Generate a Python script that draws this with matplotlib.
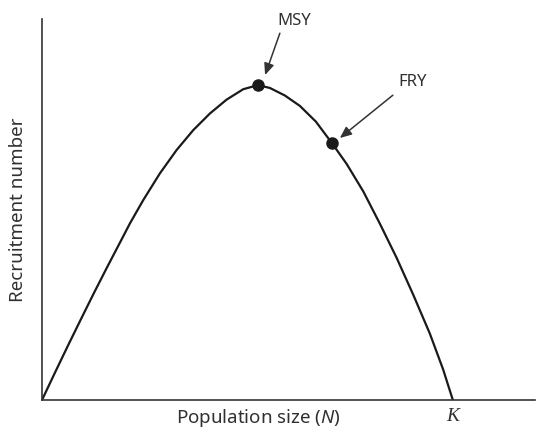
import matplotlib
matplotlib.use('Agg')
from matplotlib import pyplot as plt

# recruitment curve (K = 1000, MSY recruitment = 100)
population = [0, 31.6, 63.3, 94.9, 126.5, 158.2, 189.8, 214.1, 246.5, 287.1, 327.7,
              368.1, 408.8, 449.4, 489.8, 525.5, 554.7, 591.2, 627.7, 666.7, 705.6,
              741.4, 781.8, 822.4, 863.0, 903.4, 944.0, 976.4, 1000]
recruitment = [0, 8.7, 17.3, 25.7, 34.0, 42.1, 50.0, 56.1, 63.5, 72.0, 79.4,
               85.7, 91.0, 95.4, 98.7, 100, 99.1, 96.7, 93.4, 88.4, 81.6,
               75.0, 66.3, 56.0, 45.2, 33.5, 21.1, 9.7, 0]

point_labels = ['MSY', 'FRY']
point_n = [525.5, 705.6]
point_r = [100, 81.6]
carrying_capacity = 1000

plt.rcParams['font.family'] = ['Noto Sans', 'DejaVu Sans']
plt.rcParams['mathtext.fontset'] = 'custom'
plt.rcParams['mathtext.rm'] = 'Noto Sans'
plt.rcParams['mathtext.it'] = 'Noto Sans:italic'

text_color = '#303030'

fig = plt.figure(figsize=(5.5, 4.36), dpi=100)
ax = fig.add_axes([42 / 550, 36 / 436, 493 / 550, 381 / 436])

ax.plot(population, recruitment, color='#1a1a1a', lw=1.6,
        solid_capstyle='round', solid_joinstyle='round')
ax.plot(point_n, point_r, 'o', color='#1a1a1a', ms=8)

ax.set_xlim(0, 1200)
ax.set_ylim(0, 121)
for side in ['top', 'right']:
    ax.spines[side].set_visible(False)
for side in ['left', 'bottom']:
    ax.spines[side].set_color('#333333')
    ax.spines[side].set_linewidth(1.2)
ax.set_xticks([])
ax.set_yticks([])

arrow = dict(arrowstyle='-|>,head_length=0.7,head_width=0.3', color='#333333', lw=1.1,
             shrinkA=0, shrinkB=0)
# MSY
ax.text(613, 120.3, point_labels[0], ha='center', va='center', fontsize=12, color=text_color)
ax.annotate('', xy=(543, 103.2), xytext=(579, 116.5), arrowprops=arrow)
# FRY
ax.text(903, 101, point_labels[1], ha='center', va='center', fontsize=12, color=text_color)
ax.annotate('', xy=(725, 83.2), xytext=(854, 96.8), arrowprops=arrow)

ax.annotate('Population size ($N$)', xy=(point_n[0], 0), xytext=(0, -5),
            textcoords='offset points', ha='center', va='top', fontsize=13.5,
            color=text_color, annotation_clip=False)
ax.annotate('K', xy=(carrying_capacity, 0), xytext=(0, -6), textcoords='offset points',
            ha='center', va='top', fontsize=14, family='Liberation Serif', style='italic',
            color=text_color, annotation_clip=False)

ax.set_ylabel('Recruitment number', fontsize=13.5, color=text_color)
ax.yaxis.set_label_coords(-0.03, 0.5)

fig.savefig('out.png', dpi=100)
